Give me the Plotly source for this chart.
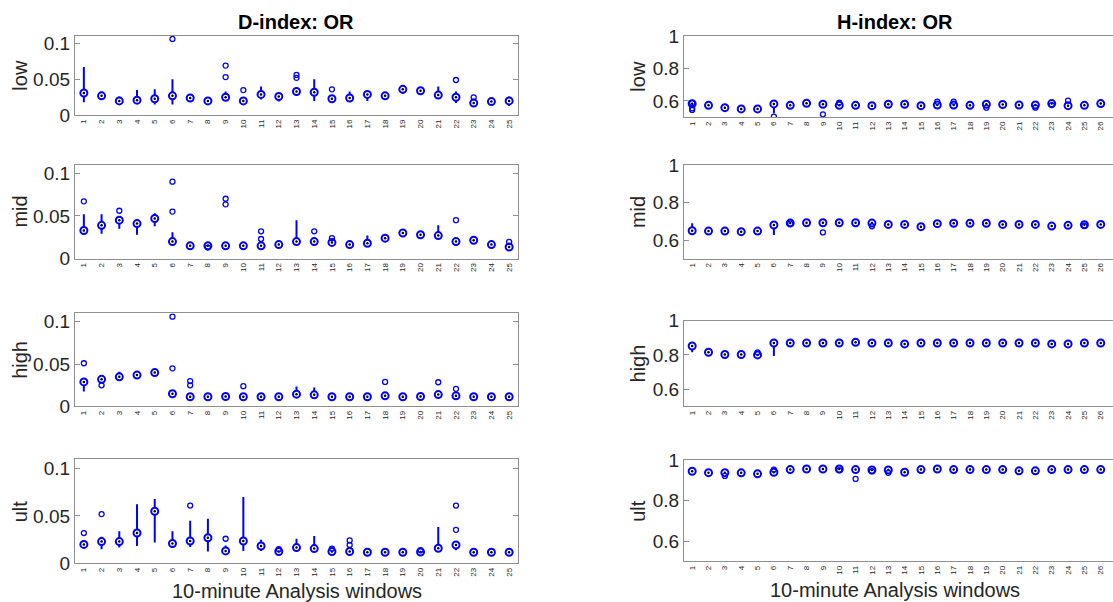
import plotly.graph_objects as go

W, H = 1113, 614
BLUE = "#0000ff"
TXT = "#262626"
FONT = "Liberation Sans, Arial, sans-serif"

windows_d = list(range(1, 26))
windows_h = list(range(1, 27))
row_names = ["low", "mid", "high", "ult"]

# ---------------- D-index: OR ----------------
d_low_med = [0.031, 0.027, 0.020, 0.021, 0.023, 0.027, 0.024, 0.020, 0.025, 0.020, 0.029, 0.026, 0.033,
             0.032, 0.023, 0.024, 0.029, 0.027, 0.036, 0.034, 0.028, 0.025, 0.017, 0.019, 0.020]
d_low_lo = [0.018, 0.022, 0.016, 0.016, 0.015, 0.015, 0.019, 0.018, 0.021, 0.017, 0.022, 0.019, 0.027,
            0.020, 0.020, 0.019, 0.020, 0.023, 0.030, 0.028, 0.023, 0.017, 0.015, 0.016, 0.013]
d_low_hi = [0.067, 0.033, 0.026, 0.035, 0.036, 0.050, 0.026, 0.023, 0.033, 0.024, 0.040, 0.031, 0.038,
            0.050, 0.028, 0.033, 0.033, 0.030, 0.040, 0.038, 0.040, 0.033, 0.023, 0.022, 0.026]
d_low_out_x = [6, 9, 9, 10, 13, 13, 15, 22, 23]
d_low_out_y = [0.106, 0.053, 0.069, 0.035, 0.052, 0.056, 0.036, 0.049, 0.025]

d_mid_med = [0.033, 0.039, 0.045, 0.041, 0.047, 0.020, 0.015, 0.015, 0.015, 0.015, 0.015, 0.0165, 0.020,
             0.020, 0.019, 0.0165, 0.018, 0.024, 0.030, 0.028, 0.027, 0.020, 0.0215, 0.0165, 0.0137]
d_mid_lo = [0.029, 0.029, 0.035, 0.028, 0.038, 0.018, 0.0125, 0.012, 0.013, 0.013, 0.0125, 0.013, 0.018,
            0.018, 0.0165, 0.0148, 0.015, 0.021, 0.028, 0.026, 0.023, 0.018, 0.019, 0.0145, 0.012]
d_mid_hi = [0.052, 0.052, 0.049, 0.045, 0.053, 0.031, 0.018, 0.018, 0.017, 0.0177, 0.0188, 0.020, 0.045,
            0.0224, 0.0212, 0.0188, 0.027, 0.028, 0.032, 0.030, 0.039, 0.024, 0.0243, 0.0188, 0.0177]
d_mid_out_x = [1, 3, 6, 6, 8, 9, 9, 11, 11, 14, 15, 22, 25]
d_mid_out_y = [0.067, 0.056, 0.090, 0.055, 0.013, 0.0635, 0.070, 0.023, 0.032, 0.032, 0.024, 0.045, 0.0196]

d_high_med = [0.029, 0.032, 0.035, 0.037, 0.040, 0.015, 0.0114, 0.0114, 0.0118, 0.0114, 0.0114, 0.0114,
              0.0145, 0.0137, 0.0114, 0.0114, 0.0114, 0.0125, 0.0114, 0.0118, 0.014, 0.0125, 0.0114,
              0.0114, 0.0114]
d_high_lo = [0.0176, 0.029, 0.0325, 0.034, 0.0375, 0.013, 0.0098, 0.0098, 0.0098, 0.0098, 0.0098, 0.0098,
             0.0118, 0.0114, 0.0098, 0.0098, 0.0098, 0.0106, 0.0098, 0.0098, 0.012, 0.0106, 0.0098,
             0.0098, 0.0098]
d_high_hi = [0.031, 0.035, 0.041, 0.040, 0.043, 0.0176, 0.0137, 0.013, 0.0145, 0.0137, 0.0157, 0.0137,
             0.0235, 0.0224, 0.013, 0.013, 0.0145, 0.0157, 0.013, 0.0137, 0.0165, 0.0153, 0.013,
             0.013, 0.013]
d_high_out_x = [1, 2, 6, 6, 7, 7, 10, 18, 21, 22]
d_high_out_y = [0.051, 0.025, 0.106, 0.045, 0.030, 0.025, 0.024, 0.029, 0.0286, 0.0208]

d_ult_med = [0.020, 0.023, 0.023, 0.032, 0.055, 0.021, 0.0236, 0.027, 0.0132, 0.0236, 0.0184, 0.0125,
             0.0167, 0.0156, 0.0125, 0.0125, 0.0118, 0.0118, 0.0118, 0.012, 0.016, 0.0194, 0.0118,
             0.0118, 0.0118]
d_ult_lo = [0.016, 0.015, 0.0167, 0.0184, 0.022, 0.0167, 0.0174, 0.0125, 0.0115, 0.0132, 0.0132, 0.0104,
            0.0132, 0.0125, 0.0104, 0.0104, 0.0104, 0.0104, 0.0104, 0.0104, 0.0132, 0.0139, 0.0104,
            0.0104, 0.0104]
d_ult_hi = [0.0236, 0.028, 0.034, 0.0625, 0.068, 0.034, 0.045, 0.047, 0.019, 0.070, 0.025, 0.016,
            0.026, 0.029, 0.0146, 0.0146, 0.0132, 0.0132, 0.0132, 0.0139, 0.0385, 0.0236, 0.0139,
            0.0139, 0.0132]
d_ult_out_x = [1, 2, 7, 9, 12, 15, 16, 16, 20, 22, 22]
d_ult_out_y = [0.032, 0.052, 0.061, 0.026, 0.015, 0.0156, 0.0194, 0.0243, 0.0139, 0.061, 0.0354]

# ---------------- H-index: OR ----------------
h_low_med = [0.583, 0.573, 0.559, 0.551, 0.551, 0.582, 0.573, 0.586, 0.580, 0.573, 0.573, 0.571, 0.580,
             0.580, 0.571, 0.575, 0.575, 0.573, 0.580, 0.578, 0.575, 0.575, 0.584, 0.571, 0.573, 0.584]
h_low_lo = [0.565, 0.563, 0.551, 0.539, 0.529, 0.524, 0.563, 0.576, 0.570, 0.559, 0.559, 0.561, 0.570,
            0.570, 0.561, 0.559, 0.559, 0.563, 0.559, 0.567, 0.563, 0.559, 0.559, 0.559, 0.563, 0.573]
h_low_hi = [0.596, 0.584, 0.571, 0.567, 0.563, 0.596, 0.584, 0.600, 0.590, 0.596, 0.584, 0.584, 0.590,
            0.590, 0.584, 0.596, 0.596, 0.584, 0.590, 0.588, 0.596, 0.588, 0.596, 0.584, 0.584, 0.596]
h_low_out_x = [1, 1, 1, 6, 9, 10, 16, 17, 19, 22, 23, 24]
h_low_out_y = [0.555, 0.545, 0.588, 0.504, 0.518, 0.590, 0.596, 0.596, 0.559, 0.559, 0.575, 0.602]

h_mid_med = [0.650, 0.648, 0.648, 0.645, 0.648, 0.681, 0.691, 0.693, 0.693, 0.693, 0.693, 0.691, 0.684,
             0.684, 0.672, 0.688, 0.690, 0.690, 0.690, 0.684, 0.684, 0.684, 0.675, 0.679, 0.682, 0.684]
h_mid_lo = [0.641, 0.642, 0.642, 0.639, 0.642, 0.627, 0.685, 0.687, 0.687, 0.687, 0.687, 0.672, 0.678,
            0.678, 0.666, 0.682, 0.684, 0.684, 0.684, 0.678, 0.678, 0.678, 0.669, 0.673, 0.676, 0.678]
h_mid_hi = [0.690, 0.654, 0.654, 0.651, 0.654, 0.693, 0.697, 0.699, 0.699, 0.699, 0.699, 0.700, 0.690,
            0.690, 0.678, 0.694, 0.696, 0.696, 0.696, 0.690, 0.690, 0.690, 0.681, 0.685, 0.688, 0.690]
h_mid_out_x = [7, 9, 12, 25]
h_mid_out_y = [0.688, 0.641, 0.674, 0.677]

h_high_med = [0.852, 0.815, 0.802, 0.802, 0.800, 0.869, 0.869, 0.869, 0.869, 0.869, 0.873, 0.869, 0.869,
              0.864, 0.869, 0.869, 0.869, 0.869, 0.869, 0.869, 0.869, 0.869, 0.864, 0.864, 0.869, 0.869]
h_high_lo = [0.815, 0.809, 0.796, 0.796, 0.793, 0.793, 0.863, 0.863, 0.863, 0.863, 0.867, 0.863, 0.863,
             0.858, 0.863, 0.863, 0.863, 0.863, 0.863, 0.863, 0.863, 0.863, 0.858, 0.858, 0.863, 0.863]
h_high_hi = [0.862, 0.821, 0.808, 0.808, 0.822, 0.878, 0.875, 0.875, 0.875, 0.875, 0.879, 0.875, 0.875,
             0.870, 0.875, 0.875, 0.875, 0.875, 0.875, 0.875, 0.875, 0.875, 0.870, 0.870, 0.875, 0.875]
h_high_out_x = [5]
h_high_out_y = [0.815]

h_ult_med = [0.945, 0.938, 0.938, 0.937, 0.932, 0.940, 0.953, 0.956, 0.956, 0.956, 0.953, 0.951, 0.951,
             0.940, 0.953, 0.956, 0.953, 0.953, 0.953, 0.953, 0.947, 0.947, 0.953, 0.953, 0.953, 0.953]
h_ult_lo = [0.940, 0.933, 0.930, 0.932, 0.912, 0.935, 0.948, 0.951, 0.951, 0.951, 0.945, 0.946, 0.940,
            0.935, 0.948, 0.951, 0.948, 0.948, 0.948, 0.948, 0.942, 0.942, 0.948, 0.948, 0.948, 0.948]
h_ult_hi = [0.950, 0.943, 0.944, 0.942, 0.942, 0.958, 0.958, 0.961, 0.961, 0.961, 0.960, 0.957, 0.957,
            0.945, 0.958, 0.961, 0.958, 0.958, 0.958, 0.958, 0.952, 0.952, 0.958, 0.958, 0.958, 0.958]
h_ult_out_x = [3, 6, 10, 11, 12, 13]
h_ult_out_y = [0.922, 0.953, 0.950, 0.907, 0.945, 0.937]

d_panels = [
    (d_low_med, d_low_lo, d_low_hi, d_low_out_x, d_low_out_y),
    (d_mid_med, d_mid_lo, d_mid_hi, d_mid_out_x, d_mid_out_y),
    (d_high_med, d_high_lo, d_high_hi, d_high_out_x, d_high_out_y),
    (d_ult_med, d_ult_lo, d_ult_hi, d_ult_out_x, d_ult_out_y),
]
h_panels = [
    (h_low_med, h_low_lo, h_low_hi, h_low_out_x, h_low_out_y),
    (h_mid_med, h_mid_lo, h_mid_hi, h_mid_out_x, h_mid_out_y),
    (h_high_med, h_high_lo, h_high_hi, h_high_out_x, h_high_out_y),
    (h_ult_med, h_ult_lo, h_ult_hi, h_ult_out_x, h_ult_out_y),
]

d_yticks = [0, 0.05, 0.1]
d_yticktext = ["0", "0.05", "0.1"]
h_yticks = [0.6, 0.8, 1.0]
h_yticktext = ["0.6", "0.8", "1"]

# panel placement in canvas pixels: (left, right) and (top, bottom)
left_x_px = (75, 518)
right_x_px = (684, 1113)
left_y_px = [(27, 109), (160, 257.5), (314, 410.5), (465, 573)]
right_y_px = [(27, 111), (161, 257.5), (321.5, 410.5), (466, 571)]


def xdom(px):
    return [px[0] / W, px[1] / W]


def ydom(px):
    return [1 - px[1] / H, 1 - px[0] / H]


fig = go.Figure()


def add_boxes(idx, x, med, lo, hi, out_x, out_y):
    xa = "x" if idx == 1 else f"x{idx}"
    ya = "y" if idx == 1 else f"y{idx}"
    wx, wy = [], []
    for xi, a, b in zip(x, lo, hi):
        wx += [xi, xi, None]
        wy += [a, b, None]
    fig.add_trace(go.Scatter(x=wx, y=wy, mode="lines", line=dict(color=BLUE, width=2),
                             xaxis=xa, yaxis=ya, hoverinfo="skip", showlegend=False))
    fig.add_trace(go.Scatter(x=x, y=med, mode="markers",
                             marker=dict(symbol="circle", size=7, color="white",
                                         line=dict(color=BLUE, width=2)),
                             xaxis=xa, yaxis=ya, showlegend=False))
    fig.add_trace(go.Scatter(x=x, y=med, mode="markers",
                             marker=dict(symbol="circle", size=2.5, color="black", line=dict(width=0)),
                             xaxis=xa, yaxis=ya, hoverinfo="skip", showlegend=False))
    fig.add_trace(go.Scatter(x=out_x, y=out_y, mode="markers",
                             marker=dict(symbol="circle-open", size=5, color=BLUE,
                                         line=dict(color=BLUE, width=1.3)),
                             xaxis=xa, yaxis=ya, showlegend=False))


layout = dict(
    width=W, height=H, margin=dict(l=0, r=0, t=0, b=0),
    paper_bgcolor="white", plot_bgcolor="white",
    font=dict(family=FONT, color=TXT, size=19),
    showlegend=False,
)

annotations = []
axis_line = dict(showline=True, linecolor="#8f8f8f", linewidth=1.3, showgrid=False, zeroline=False)

for r in range(4):
    # left column: D-index
    idx = 2 * r + 1
    med, lo, hi, ox, oy = d_panels[r]
    add_boxes(idx, windows_d, med, lo, hi, ox, oy)
    key = "" if idx == 1 else str(idx)
    layout[f"xaxis{key}"] = dict(
        domain=xdom(left_x_px), anchor=f"y{key}", range=[0.5, 25.5],
        tickvals=windows_d, ticktext=[str(v) for v in windows_d], tickangle=-90,
        ticks="", tickfont=dict(size=8, color=TXT), mirror=True, **axis_line)
    layout[f"yaxis{key}"] = dict(
        domain=ydom(left_y_px[r]), anchor=f"x{key}", range=[0, 0.11],
        tickvals=d_yticks, ticktext=d_yticktext, ticks="inside", ticklen=5,
        tickcolor="#8f8f8f", mirror="ticks", tickfont=dict(size=19, color=TXT), **axis_line)
    annotations.append(dict(text=row_names[r], xref="paper", yref="paper",
                            x=20 / W, y=sum(ydom(left_y_px[r])) / 2, textangle=-90,
                            showarrow=False, xanchor="center", yanchor="middle",
                            font=dict(size=20, color=TXT)))

    # right column: H-index
    idx = 2 * r + 2
    med, lo, hi, ox, oy = h_panels[r]
    add_boxes(idx, windows_h, med, lo, hi, ox, oy)
    key = str(idx)
    layout[f"xaxis{key}"] = dict(
        domain=xdom(right_x_px), anchor=f"y{key}", range=[0.5, 26.75],
        tickvals=windows_h, ticktext=[str(v) for v in windows_h], tickangle=-90,
        ticks="", tickfont=dict(size=8, color=TXT), mirror=True, **axis_line)
    layout[f"yaxis{key}"] = dict(
        domain=ydom(right_y_px[r]), anchor=f"x{key}", range=[0.5, 1.0],
        tickvals=h_yticks, ticktext=h_yticktext, ticks="inside", ticklen=5,
        tickcolor="#8f8f8f", mirror=False, tickfont=dict(size=19, color=TXT), **axis_line)
    annotations.append(dict(text=row_names[r], xref="paper", yref="paper",
                            x=638 / W, y=sum(ydom(right_y_px[r])) / 2, textangle=-90,
                            showarrow=False, xanchor="center", yanchor="middle",
                            font=dict(size=20, color=TXT)))

# column titles
annotations.append(dict(text="<b>D-index: OR</b>", xref="paper", yref="paper",
                        x=296 / W, y=1 - 12 / H, showarrow=False, xanchor="center",
                        yanchor="middle", font=dict(size=20, color="black")))
annotations.append(dict(text="<b>H-index: OR</b>", xref="paper", yref="paper",
                        x=895 / W, y=1 - 12 / H, showarrow=False, xanchor="center",
                        yanchor="middle", font=dict(size=20, color="black")))
# x-axis titles under the bottom row
annotations.append(dict(text="10-minute Analysis windows", xref="paper", yref="paper",
                        x=297 / W, y=1 - 602 / H, showarrow=False, xanchor="center",
                        yanchor="middle", font=dict(size=20, color=TXT)))
annotations.append(dict(text="10-minute Analysis windows", xref="paper", yref="paper",
                        x=895 / W, y=1 - 601 / H, showarrow=False, xanchor="center",
                        yanchor="middle", font=dict(size=20, color=TXT)))

layout["annotations"] = annotations
fig.update_layout(**layout)
fig.write_html("out.html")
